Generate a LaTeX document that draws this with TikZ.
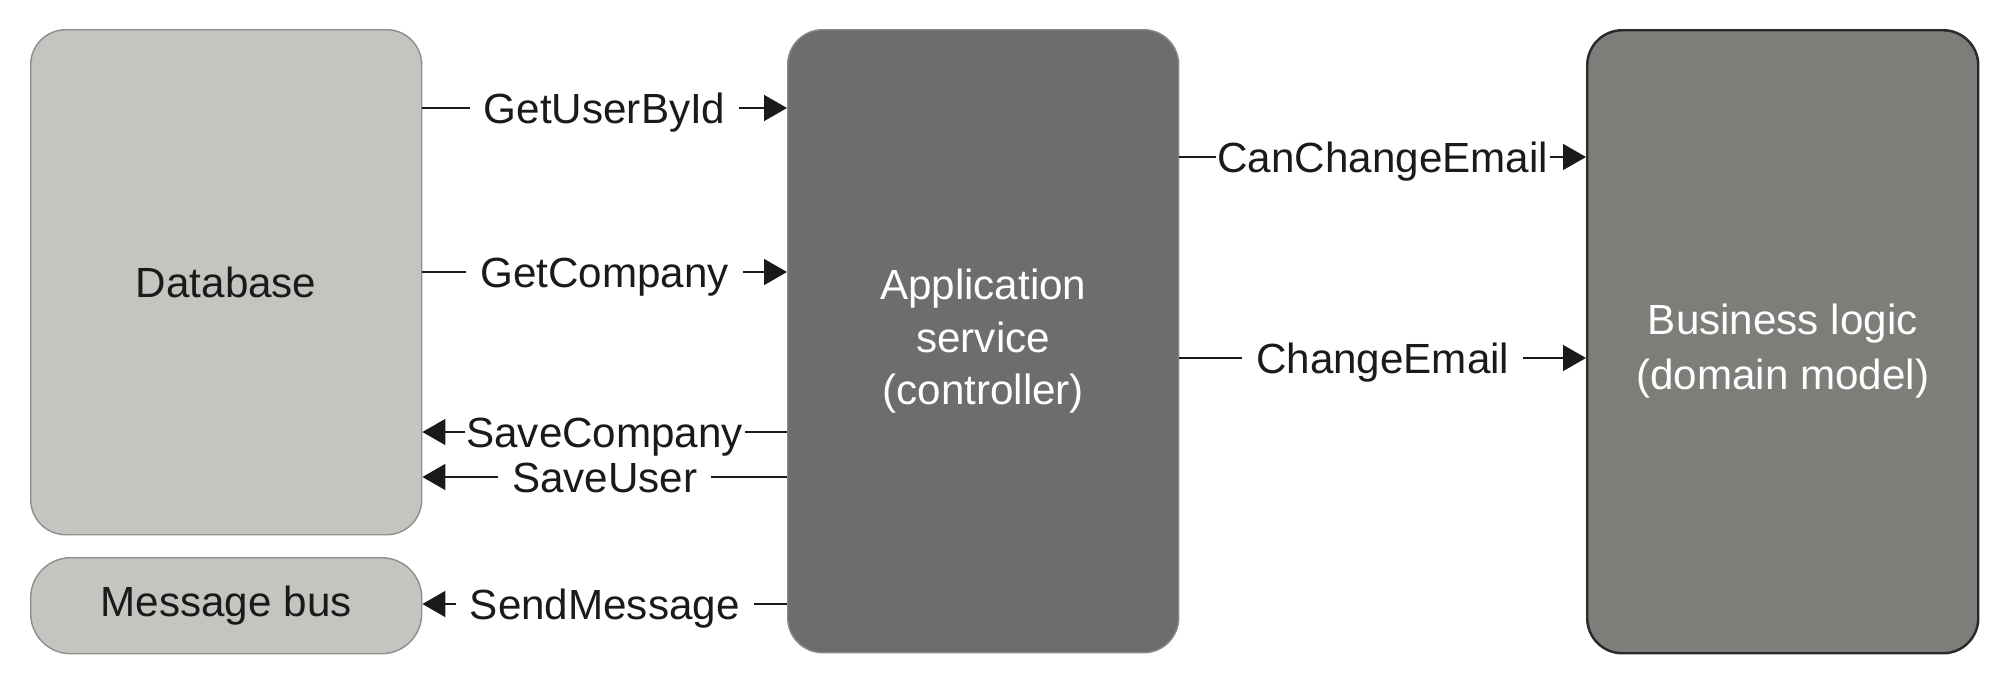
\documentclass[tikz,border=0pt]{standalone}
\usepackage{fontspec}
\setmainfont{Liberation Sans}
\usepackage{xcolor}
\usepackage{tikz}
\usetikzlibrary{arrows.meta}
\definecolor{boxlight}{HTML}{C5C4C0}
\definecolor{linelight}{HTML}{8E8E8C}
\definecolor{boxmid}{HTML}{6E6D6B}
\definecolor{linemid}{HTML}{8A8988}
\definecolor{boxdark}{HTML}{7D7E7A}
\definecolor{linedark}{HTML}{2A2A2A}
\definecolor{ink}{HTML}{1A1A1A}
\tikzset{
  box/.style={rectangle, anchor=north west, align=center, minimum width=3.91cm,
    font=\fontsize{12}{15}\selectfont},
  boxL/.style={box, rounded corners=0.35cm, fill=boxlight, draw=linelight, line width=0.4pt, text=ink},
  boxM/.style={box, rounded corners=0.35cm, fill=boxmid, draw=linemid, line width=0.4pt, text=white},
  boxD/.style={box, rounded corners=0.35cm, fill=boxdark, draw=linedark, line width=0.7pt, text=white,
    font=\fontsize{12}{15.6}\selectfont},
  conR/.style={draw=ink, line width=0.45pt, -{Triangle[length=0.23cm,width=0.26cm]}},
  conL/.style={draw=ink, line width=0.45pt, {Triangle[length=0.23cm,width=0.26cm]}-},
  lab/.style={fill=white, text=ink, inner xsep=4pt, inner ysep=1pt, text height=8.6pt, text depth=0pt,
    font=\fontsize{12}{14}\selectfont},
  labT/.style={lab, inner xsep=0.5pt}
}
\begin{document}
\begin{tikzpicture}
  \useasboundingbox (0,0) rectangle (20,-6.81);
  % boxes
  \node[boxL, minimum height=5.05cm] (db) at (0.30,-0.29) {Database};
  \node[boxL, minimum height=0.96cm, rounded corners=0.4cm] (bus) at (0.30,-5.57) {Message bus};
  \node[boxM, minimum height=6.23cm] (app) at (7.87,-0.29) {Application\\service\\(controller)};
  \node[boxD, minimum height=6.23cm, text height=1.04cm] (biz) at (15.86,-0.29) {Business logic\\(domain model)};

  % calls to the database
  \draw[conR] (db.east |- 0,-1.08) -- node[lab] {GetUserById} (app.west |- 0,-1.08);
  \draw[conR] (db.east |- 0,-2.72) -- node[lab] {GetCompany} (app.west |- 0,-2.72);
  \draw[conL] (db.east |- 0,-4.32) -- node[labT] {SaveCompany} (app.west |- 0,-4.32);
  \draw[conL] (db.east |- 0,-4.77) -- node[lab] {SaveUser} (app.west |- 0,-4.77);
  \draw[conL] (bus.east |- 0,-6.04) -- node[lab] {SendMessage} (app.west |- 0,-6.04);

  % calls to the domain
  \draw[conR] (app.east |- 0,-1.57) -- node[labT] {CanChangeEmail} (biz.west |- 0,-1.57);
  \draw[conR] (app.east |- 0,-3.58) -- node[lab] {ChangeEmail} (biz.west |- 0,-3.58);
\end{tikzpicture}
\end{document}
